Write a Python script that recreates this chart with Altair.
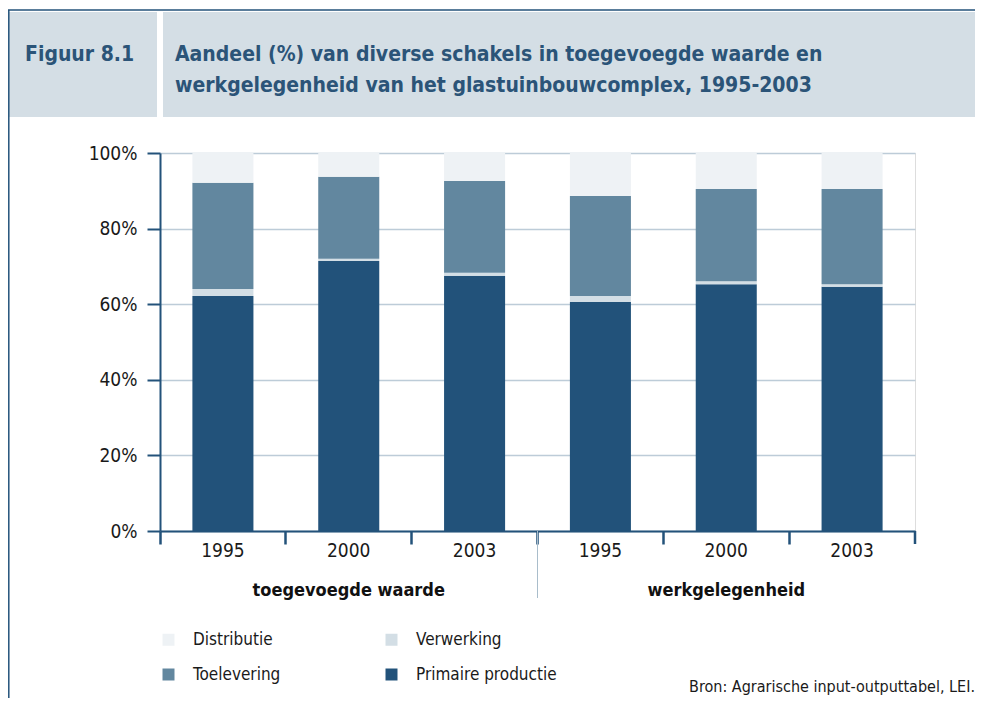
import altair as alt
import pandas as pd

# ---- data ----
cats = ["tw1995", "tw2000", "tw2003", "wg1995", "wg2000", "wg2003"]
years = ["1995", "2000", "2003", "1995", "2000", "2003"]
group_names = ["toegevoegde waarde", "werkgelegenheid"]
group_centre_cats = ["tw2000", "wg2000"]
primaire = [62.2, 71.4, 67.5, 60.6, 65.3, 64.6]
verwerking = [1.8, 0.6, 0.8, 1.6, 0.8, 0.7]
toelevering = [28.1, 21.7, 24.3, 26.4, 24.4, 25.2]
distributie = [7.9, 6.3, 7.4, 11.4, 9.5, 9.5]
# legend is filled column by column: col 1 = Distributie/Toelevering, col 2 = Verwerking/Primaire
series = ["Distributie", "Toelevering", "Verwerking", "Primaire productie"]
colors = ["#EEF2F5", "#62879F", "#D3DEE5", "#22527A"]
y_ticks = [0, 20, 40, 60, 80, 100]

title_label = "Figuur 8.1"
title_lines = ["Aandeel (%) van diverse schakels in toegevoegde waarde en",
               "werkgelegenheid van het glastuinbouwcomplex, 1995-2003"]
source = "Bron: Agrarische input-outputtabel, LEI."

rows = []
for i, c in enumerate(cats):
    for s, vals, o in [("Primaire productie", primaire, 0), ("Verwerking", verwerking, 1),
                       ("Toelevering", toelevering, 2), ("Distributie", distributie, 3)]:
        rows.append({"cat": c, "serie": s, "waarde": vals[i], "volgorde": o})
df = pd.DataFrame(rows)
df_years = pd.DataFrame({"cat": cats, "jaar": years})
df_groups = pd.DataFrame({"cat": group_centre_cats, "groep": group_names})
one = pd.DataFrame({"_": [0]})

FONT = "Liberation Sans Narrow, DejaVu Sans Condensed, Arial Narrow, sans-serif"
DARK = "#23527A"
TITLE_C = "#2B5478"
GRID = "#BDCCD8"
W, H = 755, 378

x_enc = alt.X("cat:N", scale=alt.Scale(domain=cats, paddingInner=0, paddingOuter=0),
              axis=alt.Axis(bandPosition=0, labels=False, title=None, tickSize=13, tickWidth=2.5,
                            tickColor=DARK, domainColor=DARK, domainWidth=2, grid=False))

bars = alt.Chart(df).mark_bar(width=alt.RelativeBandSize(0.485)).encode(
    x=x_enc,
    y=alt.Y("waarde:Q", stack="zero", scale=alt.Scale(domain=[0, 100], nice=False),
            axis=alt.Axis(values=y_ticks, labelExpr="datum.value + '%'", title=None, grid=True,
                          gridColor=GRID, gridWidth=1.5, domainColor=DARK, domainWidth=2,
                          tickColor=DARK, tickWidth=2, tickSize=13, labelFontSize=19,
                          labelColor="#1a1a1a", labelPadding=10, labelFont=FONT)),
    color=alt.Color("serie:N", scale=alt.Scale(domain=series, range=colors),
                    legend=alt.Legend(title=None, orient="none", legendX=0, legendY=478, columns=2,
                                      symbolType="square", symbolSize=144, symbolStrokeWidth=0,
                                      labelFontSize=17, labelFont=FONT, labelColor="#1a1a1a",
                                      labelOffset=16, columnPadding=102, rowPadding=17,
                                      gridAlign="each", padding=0)),
    order=alt.Order("volgorde:Q", sort="ascending"),
)

year_text = alt.Chart(df_years).mark_text(fontSize=19, font=FONT, color="#1a1a1a", baseline="middle").encode(
    x=x_enc, y=alt.value(H + 20), text="jaar:N")

group_text = alt.Chart(df_groups).mark_text(fontSize=18, font=FONT, fontWeight="bold", color="#111",
                                            baseline="middle").encode(
    x=x_enc, y=alt.value(H + 60), text="groep:N")

end_tick = alt.Chart(one).mark_rule(color=DARK, strokeWidth=2.5).encode(
    x=alt.value(W), y=alt.value(H), y2=alt.value(H + 13))
separator = alt.Chart(one).mark_rule(color="#A9BDCB", strokeWidth=1).encode(
    x=alt.value(377.5), y=alt.value(H), y2=alt.value(H + 67))

# header
hdr_left = alt.Chart(one).mark_rect(color="#D4DEE5").encode(
    x=alt.value(-151), x2=alt.value(-3), y=alt.value(-141), y2=alt.value(-36))
hdr_right = alt.Chart(one).mark_rect(color="#D4DEE5").encode(
    x=alt.value(3), x2=alt.value(W + 60), y=alt.value(-141), y2=alt.value(-36))
top_border = alt.Chart(one).mark_rule(color=DARK, strokeWidth=1.5).encode(
    x=alt.value(-152), x2=alt.value(W + 60), y=alt.value(-143))
left_border = alt.Chart(one).mark_rule(color=DARK, strokeWidth=1.5).encode(
    x=alt.value(-151.2), y=alt.value(-143), y2=alt.value(H + 175))
fig_label = alt.Chart(one).mark_text(text=title_label, fontSize=21, font=FONT, fontWeight="bold",
                                     color=TITLE_C, align="left", baseline="middle").encode(
    x=alt.value(-135), y=alt.value(-98))
t1 = alt.Chart(one).mark_text(text=title_lines[0], fontSize=21, font=FONT, fontWeight="bold",
                              color=TITLE_C, align="left", baseline="middle").encode(
    x=alt.value(15), y=alt.value(-98))
t2 = alt.Chart(one).mark_text(text=title_lines[1], fontSize=21, font=FONT, fontWeight="bold",
                              color=TITLE_C, align="left", baseline="middle").encode(
    x=alt.value(15), y=alt.value(-67))
src = alt.Chart(one).mark_text(text=source, fontSize=16, font=FONT, color="#1a1a1a",
                               align="right", baseline="middle").encode(
    x=alt.value(815), y=alt.value(534))

chart = alt.layer(
    hdr_left, hdr_right, top_border, left_border, fig_label, t1, t2,
    bars, year_text, group_text, end_tick, separator, src
).properties(
    width=W, height=H,
    autosize=alt.AutoSizeParams(type="none"),
    padding={"left": 152, "top": 145, "right": 60, "bottom": 167},
).configure_view(stroke=GRID, strokeWidth=1.5).configure(background="white")

chart.save("out.html", embed_options={"renderer": "svg", "actions": False})
